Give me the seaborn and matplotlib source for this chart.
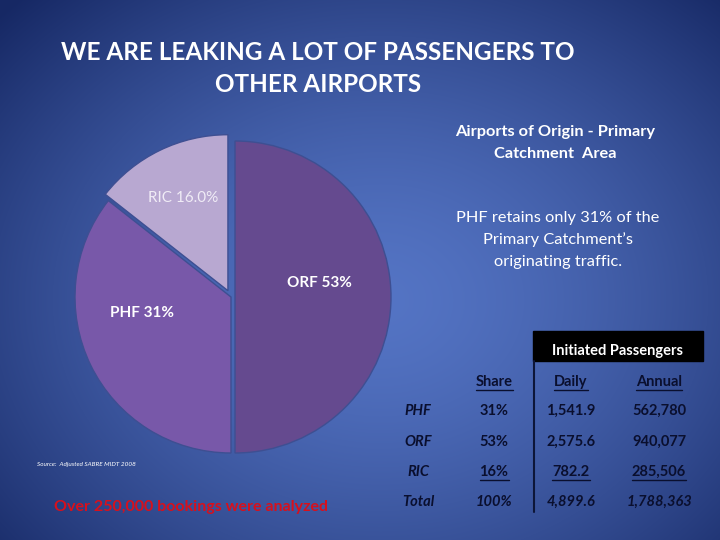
import numpy as np
import matplotlib
matplotlib.use("Agg")
import matplotlib.pyplot as plt
import seaborn as sns

# ---- data ----
airports = ["ORF", "PHF", "RIC"]
pie_sizes = [50.0, 35.6, 14.4]          # slice sizes as drawn in the picture
pie_labels = ["ORF 53%", "PHF 31%", "RIC 16.0%"]
row_labels = ["PHF", "ORF", "RIC", "Total"]
share = ["31%", "53%", "16%", "100%"]
daily = ["1,541.9", "2,575.6", "782.2", "4,899.6"]
annual = ["562,780", "940,077", "285,506", "1,788,363"]
col_headers = ["Share", "Daily", "Annual"]

sns.set_theme(style="white")
plt.rcParams['font.family'] = ['Lato', 'DejaVu Sans']

W, H = 720, 540
fig = plt.figure(figsize=(7.2, 5.4), dpi=100)
ax = fig.add_axes([0, 0, 1, 1])

# background radial gradient
yy, xx = np.mgrid[0:H, 0:W]
cx, cy = 380, 300
d = np.sqrt(((xx - cx) / 520.0) ** 2 + ((yy - cy) / 420.0) ** 2)
d = np.clip(d, 0, 1)
c_in = np.array([84, 116, 196]) / 255.0
c_out = np.array([22, 40, 100]) / 255.0
w = d[..., None] ** 1.5
img = c_in[None, None, :] * (1 - w) + c_out[None, None, :] * w
ax.imshow(img, extent=(0, W, H, 0), origin='upper', zorder=0, aspect='auto')

# pie (y axis inverted -> counterclock=True draws clockwise on screen)
colors = ["#654a8f", "#7858a9", "#b8a8d1"]
wedges, _ = ax.pie(pie_sizes, startangle=-90, counterclock=True, colors=colors,
                   center=(231, 297), radius=156, explode=[4, 0, 7],
                   frame=True, wedgeprops=dict(edgecolor="#3e4f92", linewidth=1.0))
ax.set_xlim(0, W)
ax.set_ylim(H, 0)
ax.set_aspect('auto')
ax.axis('off')

# pie labels
ax.text(319, 283, pie_labels[0], color="white", fontsize=11, fontweight="bold", ha="center", va="center")
ax.text(142, 313, pie_labels[1], color="white", fontsize=11, fontweight="bold", ha="center", va="center")
ax.text(183, 198, pie_labels[2], color="#f0ecf6", fontsize=11, ha="center", va="center")

# title
for txt, y in [("WE ARE LEAKING A LOT OF PASSENGERS TO", 52), ("OTHER AIRPORTS", 84)]:
    ax.text(318, y, txt, color="white", fontsize=17.5, fontweight="bold", ha="center", va="center")

# subtitle and note
ax.text(555, 132, "Airports of Origin - Primary", color="white", fontsize=11.8, fontweight="bold", ha="center", va="center")
ax.text(555, 154, "Catchment  Area", color="white", fontsize=11.8, fontweight="bold", ha="center", va="center")
for txt, y in [("PHF retains only 31% of the", 218), ("Primary Catchment\u2019s", 240), ("originating traffic.", 262)]:
    ax.text(558, y, txt, color="white", fontsize=11.8, ha="center", va="center")

ax.text(37, 464, "Source:  Adjusted SABRE MIDT 2008", color="white", fontsize=4.6, style="italic", ha="left", va="center")
ax.text(191, 507, "Over 250,000 bookings were analyzed", color="#d8101c", fontsize=11.5, fontweight="bold",
        ha="center", va="center")

# table
ax.add_patch(plt.Rectangle((533, 331), 170, 30, color="black", zorder=3))
ax.text(618, 351, "Initiated Passengers", color="white", fontsize=10.5, fontweight="bold", ha="center", va="center", zorder=4)
ax.plot([534, 534], [361, 512], color="#0d1638", lw=1.5, zorder=3)

tc = "#0a0f2e"
xs = [418, 494, 571, 659]
row_y = [411, 442, 472, 502]
underlined = []
for x, h in zip(xs[1:], col_headers):
    t = ax.text(x, 382, h, color=tc, fontsize=10.5, fontweight="bold", ha="center", va="center")
    underlined.append(t)
for i, (lab, s, dly, ann) in enumerate(zip(row_labels, share, daily, annual)):
    y = row_y[i]
    total = lab == "Total"
    ax.text(xs[0], y, lab, color=tc, fontsize=10.5, fontweight="bold", style="italic", ha="center", va="center")
    for x, v in zip(xs[1:], [s, dly, ann]):
        t = ax.text(x, y, v, color=tc, fontsize=10.5, fontweight="bold",
                    style="italic" if total else "normal", ha="center", va="center")
        if lab == "RIC":
            underlined.append(t)

fig.canvas.draw()
r = fig.canvas.get_renderer()
inv = ax.transData.inverted()
for t in underlined:
    bb = t.get_window_extent(r)
    (x0, y0), (x1, _) = inv.transform([(bb.x0, bb.y0), (bb.x1, bb.y0)])
    ax.plot([x0, x1], [y0 + 1, y0 + 1], color=tc, lw=1.0)

fig.savefig("out.png", dpi=100)
